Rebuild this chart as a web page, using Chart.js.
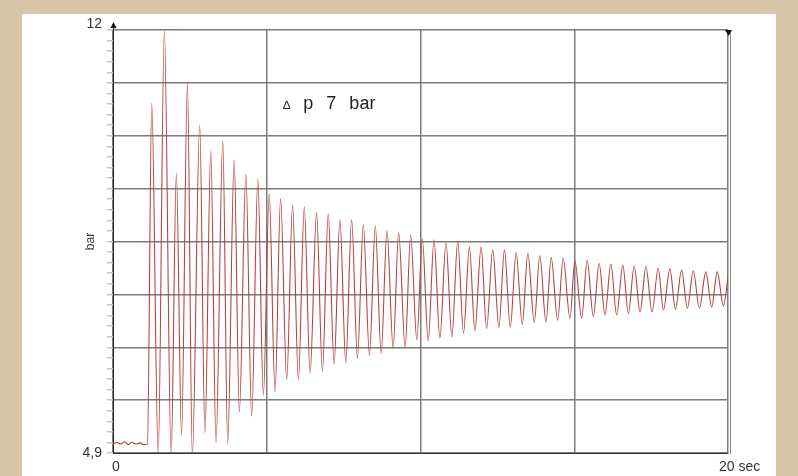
<!DOCTYPE html>
<html>
<head>
<meta charset="utf-8">
<style>
html,body{margin:0;padding:0;background:#d6c6a6;width:798px;height:476px;overflow:hidden}
#panel{position:absolute;left:22px;top:14px;width:754px;height:462px;background:#ffffff}
#chart{position:absolute;left:0;top:0}
#note{position:absolute;left:261px;top:79px;font:18px "Liberation Sans",Arial,sans-serif;color:#222;white-space:pre;word-spacing:8px}
#note .d{font-size:12px}
</style>
<script src="https://cdn.jsdelivr.net/npm/chart.js@4/dist/chart.umd.min.js"></script>
</head>
<body>
<div id="panel">
<canvas id="chart" width="754" height="462"></canvas>
<div id="note"><span class="d">∆</span> p 7 bar</div>
</div>
<script>
// ---- data (time in s, pressure in bar) ----
const baselineTimes  = [0, 0.12, 0.25, 0.38, 0.5, 0.62, 0.75, 0.88, 1.0, 1.12];
const baselineValues = [5.04, 5.08, 5.05, 5.09, 5.04, 5.08, 5.05, 5.07, 5.04, 5.05];

const peakTimes = [1.26,1.67,2.06,2.42,2.82,3.18,3.57,3.94,4.32,4.71,5.08,5.45,5.84,6.22,6.62,7.00,7.38,7.76,8.14,8.53,8.91,9.29,9.68,10.06,10.44,10.83,11.21,11.59,11.97,12.35,12.73,13.11,13.49,13.88,14.25,14.64,15.02,15.42,15.81,16.19,16.58,16.95,17.33,17.73,18.11,18.49,18.87,19.28,19.65];
const peakValues = [10.77,11.99,9.60,11.12,10.41,9.97,10.15,9.82,9.58,9.50,9.25,9.17,9.06,9.03,8.93,8.91,8.82,8.82,8.73,8.71,8.64,8.60,8.56,8.49,8.48,8.43,8.45,8.36,8.36,8.31,8.31,8.26,8.25,8.21,8.18,8.17,8.13,8.13,8.08,8.07,8.05,8.04,8.03,8.00,7.99,7.97,7.96,7.94,7.94];

const troughTimes = [1.47,1.89,2.23,2.58,2.99,3.35,3.73,4.11,4.51,4.89,5.27,5.65,6.03,6.41,6.81,7.19,7.57,7.95,8.34,8.72,9.11,9.50,9.88,10.25,10.63,11.02,11.40,11.77,12.15,12.55,12.92,13.31,13.70,14.08,14.46,14.86,15.24,15.62,16.00,16.38,16.76,17.14,17.53,17.90,18.29,18.68,19.07,19.47,19.85];
const troughValues = [4.85,4.85,5.20,4.85,5.24,5.07,5.05,5.59,5.52,5.87,5.93,6.13,6.13,6.24,6.27,6.39,6.41,6.49,6.54,6.57,6.66,6.67,6.80,6.78,6.83,6.85,6.91,6.95,6.99,7.01,7.01,7.06,7.09,7.10,7.13,7.16,7.16,7.19,7.22,7.22,7.24,7.27,7.27,7.30,7.31,7.33,7.33,7.35,7.37];

const endTime = 20, endValue = 7.84;

const yMin = 4.9, yMax = 12;
const xMin = 0, xMax = 20;
const yLabels = {first: '4,9', last: '12'};
const xStartLabel = '0';
const xEndLabel = '20 sec';
const yTitle = 'bar';

// ---- build point list ----
const pts = [];
baselineTimes.forEach((t, i) => pts.push({x: t, y: baselineValues[i]}));
peakTimes.forEach((t, i) => pts.push({x: t, y: peakValues[i]}));
troughTimes.forEach((t, i) => pts.push({x: t, y: troughValues[i]}));
pts.push({x: endTime, y: endValue});
pts.sort((a, b) => a.x - b.x);

const AXIS_BAND = 23;

const decor = {
  id: 'decor',
  afterLayout(chart) {
    ['x', 'x2'].forEach(id => {
      const s = chart.scales[id];
      s.bottom = s.top + AXIS_BAND;
    });
  },
  afterDraw(chart) {
    const {ctx, chartArea: a, scales: {x}} = chart;
    const xr = Math.round(x.getPixelForValue(xMax));
    const xl = Math.round(x.getPixelForValue(xMin));
    ctx.save();
    ctx.strokeStyle = '#8a8a8a';
    ctx.lineWidth = 1;
    ctx.beginPath();
    ctx.moveTo(xr + 2.5, a.top);
    ctx.lineTo(xr + 2.5, a.bottom + 1);
    ctx.stroke();
    ctx.fillStyle = '#111';
    ctx.beginPath();
    ctx.moveTo(xr - 3, a.top);
    ctx.lineTo(xr + 4, a.top);
    ctx.lineTo(xr + 0.5, a.top + 6);
    ctx.closePath();
    ctx.fill();
    ctx.strokeStyle = '#222';
    ctx.beginPath();
    ctx.moveTo(xl + 0.5, a.top);
    ctx.lineTo(xl + 0.5, a.top - 4);
    ctx.stroke();
    ctx.beginPath();
    ctx.moveTo(xl + 0.5, a.top - 8);
    ctx.lineTo(xl - 2.5, a.top - 2);
    ctx.lineTo(xl + 3.5, a.top - 2);
    ctx.closePath();
    ctx.fill();
    ctx.restore();
  }
};

const tickFont = {family: '"Liberation Sans", Arial, sans-serif', size: 14};

new Chart(document.getElementById('chart'), {
  type: 'line',
  data: {
    datasets: [{
      data: pts,
      borderColor: '#b5443e',
      borderWidth: 1.1,
      pointRadius: 0,
      fill: false,
      cubicInterpolationMode: 'monotone',
      clip: 0
    }]
  },
  options: {
    responsive: false,
    animation: false,
    devicePixelRatio: 1,
    layout: {padding: {top: 16, right: 48, left: 0, bottom: AXIS_BAND}},
    plugins: {legend: {display: false}, tooltip: {enabled: false}},
    scales: {
      x: {
        type: 'linear',
        min: xMin, max: xMax,
        afterFit: s => { s.height = 0; },
        ticks: {
          stepSize: 5,
          autoSkip: false,
          maxRotation: 0,
          align: 'start',
          labelOffset: -1,
          padding: 6,
          color: '#333',
          font: tickFont,
          callback: v => (v === xMin ? xStartLabel : '')
        },
        grid: {color: '#7c7c7c', lineWidth: 1.5, drawTicks: false},
        border: {color: '#333', width: 1}
      },
      x2: {
        type: 'linear',
        position: 'bottom',
        min: xMin, max: xMax,
        afterFit: s => { s.height = 0; },
        ticks: {
          stepSize: 5,
          autoSkip: false,
          maxRotation: 0,
          align: 'start',
          labelOffset: -9,
          padding: 6,
          color: '#333',
          font: tickFont,
          callback: v => (v === xMax ? xEndLabel : '')
        },
        grid: {display: false, drawTicks: false},
        border: {display: false}
      },
      y: {
        min: yMin, max: yMax,
        afterFit: s => { s.width = 91; s.paddingTop = 0; s.paddingBottom = 0; },
        title: {
          display: true, text: yTitle, color: '#333',
          font: {family: '"Liberation Sans", Arial, sans-serif', size: 12},
          padding: {top: 61, bottom: 0}
        },
        ticks: {
          stepSize: 0.1775,
          maxTicksLimit: 100,
          autoSkip: false,
          padding: 5,
          color: '#333',
          font: {family: '"Liberation Sans", Arial, sans-serif', size: 14, lineHeight: 0.9},
          callback: (v, i, t) => i === 0 ? yLabels.first : (i === t.length - 1 ? [yLabels.last, ''] : '')
        },
        grid: {
          color: c => (c.index % 5 === 0 ? '#7c7c7c' : 'rgba(0,0,0,0)'),
          lineWidth: 1.5,
          tickColor: '#c4c4c4',
          tickLength: 6
        },
        border: {color: '#222', width: 1}
      }
    }
  },
  plugins: [decor]
});
</script>
</body>
</html>
